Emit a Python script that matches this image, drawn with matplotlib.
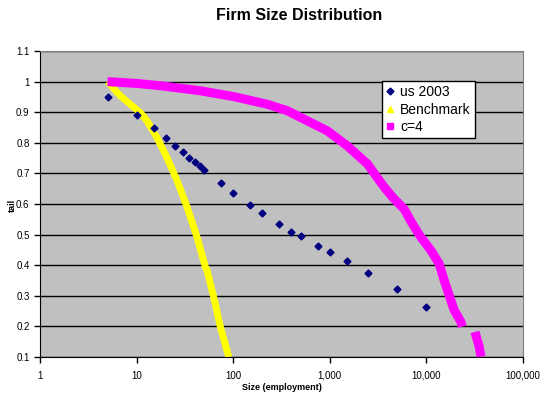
import matplotlib
matplotlib.use("Agg")
import matplotlib.pyplot as plt
import numpy as np
from matplotlib.ticker import FixedLocator, FixedFormatter

plt.rcParams['font.family'] = ['Liberation Sans', 'DejaVu Sans']

# us 2003 data
us_size = [5, 10, 15, 20, 25, 30, 35, 40, 45, 50, 75, 100, 150, 200, 300, 400,
           500, 750, 1000, 1500, 2500, 5000, 10000]
us_tail = [0.95, 0.89, 0.848, 0.816, 0.79, 0.77, 0.751, 0.737, 0.724, 0.712,
           0.668, 0.637, 0.598, 0.571, 0.534, 0.51, 0.494, 0.463, 0.442, 0.413,
           0.375, 0.321, 0.265]

# Benchmark
bench_size = [5, 6.8, 8.6, 10.9, 12.8, 16.2, 20.6, 26.2, 33.3, 42.2, 51.5,
              53.6, 62.8, 73.6, 90]
bench_tail = [1.0, 0.953, 0.926, 0.899, 0.872, 0.818, 0.752, 0.677, 0.59,
              0.492, 0.394, 0.383, 0.296, 0.199, 0.1]

# c=4 (gap between ~23500 and ~31800)
c4_size = [5, 10, 18.3, 45.6, 101, 225, 362, 584, 942, 1518, 2450, 3360,
           3790, 4625, 5870, 7170, 8750, 11100, 13550, 15270, 17200, 19400,
           22750, 23500, np.nan, 31800, 35200, 36700]
c4_tail = [1.0, 0.994, 0.986, 0.970, 0.951, 0.926, 0.905, 0.872, 0.839, 0.79,
           0.731, 0.671, 0.649, 0.617, 0.584, 0.535, 0.492, 0.449, 0.405,
           0.351, 0.302, 0.253, 0.215, 0.199, np.nan, 0.182, 0.134, 0.101]

x_ticks = [1, 10, 100, 1000, 10000, 100000]
x_labels = ['1', '10', '100', '1,000', '10,000', '100,000']
y_ticks = [0.1, 0.2, 0.3, 0.4, 0.5, 0.6, 0.7, 0.8, 0.9, 1.0, 1.1]
y_labels = ['0.1', '0.2', '0.3', '0.4', '0.5', '0.6', '0.7', '0.8', '0.9', '1', '1.1']

fig = plt.figure(figsize=(5.44, 3.93), dpi=100)
ax = fig.add_axes([40/544, 36/393, 483/544, 306/393])
ax.set_facecolor('#C0C0C0')

ax.set_xscale('log')
ax.set_xlim(1, 100000)
ax.set_ylim(0.1, 1.1)

for yv in y_ticks:
    ax.axhline(yv, color='black', lw=1.0, zorder=1)

ax.plot(bench_size, bench_tail, color='#FFFF00', lw=5, solid_capstyle='butt',
        solid_joinstyle='round', zorder=3)
ax.plot(c4_size, c4_tail, color='#FF00FF', lw=6.5, solid_capstyle='butt',
        solid_joinstyle='round', zorder=4)
ax.plot(us_size, us_tail, linestyle='none', marker='D', color='#000080',
        markersize=3.5, zorder=5)

# Legend handles
h1, = ax.plot([], [], linestyle='none', marker='D', color='#000080', markersize=3.5)
h2, = ax.plot([], [], linestyle='none', marker='^', color='#FFFF00', markersize=5)
h3, = ax.plot([], [], linestyle='none', marker='s', color='#FF00FF', markersize=5)
leg = ax.legend([h1, h2, h3], ['us 2003', 'Benchmark', 'c=4'],
                loc='upper left', bbox_to_anchor=(342/483, (357-81)/306),
                fontsize=10, frameon=True, fancybox=False, framealpha=1,
                edgecolor='black', handlelength=0.6, handletextpad=0.4,
                borderpad=0.3, labelspacing=0.25, borderaxespad=0)
leg.get_frame().set_linewidth(1.0)

ax.xaxis.set_major_locator(FixedLocator(x_ticks))
ax.xaxis.set_major_formatter(FixedFormatter(x_labels))
ax.xaxis.set_minor_locator(FixedLocator([]))
ax.set_yticks(y_ticks)
ax.set_yticklabels(y_labels)
ax.tick_params(axis='both', labelsize=7, direction='out', length=4, width=1, color='black')
ax.tick_params(axis='x', pad=6)

for s in ['top', 'right']:
    ax.spines[s].set_color('#808080')
for s in ['left', 'bottom']:
    ax.spines[s].set_color('black')

fig.text(282/544, 1 - 388/393, 'Size (employment)', ha='center', va='center',
         fontsize=6.5, fontweight='bold')
fig.text(12/544, 1 - 205/393, 'tail', ha='center', va='center', rotation=90,
         fontsize=6.5, fontweight='bold')
fig.text(299/544, 1 - 16/393, 'Firm Size Distribution', ha='center', va='center',
         fontsize=11.5, fontweight='bold')

fig.savefig('out.png', dpi=100)
